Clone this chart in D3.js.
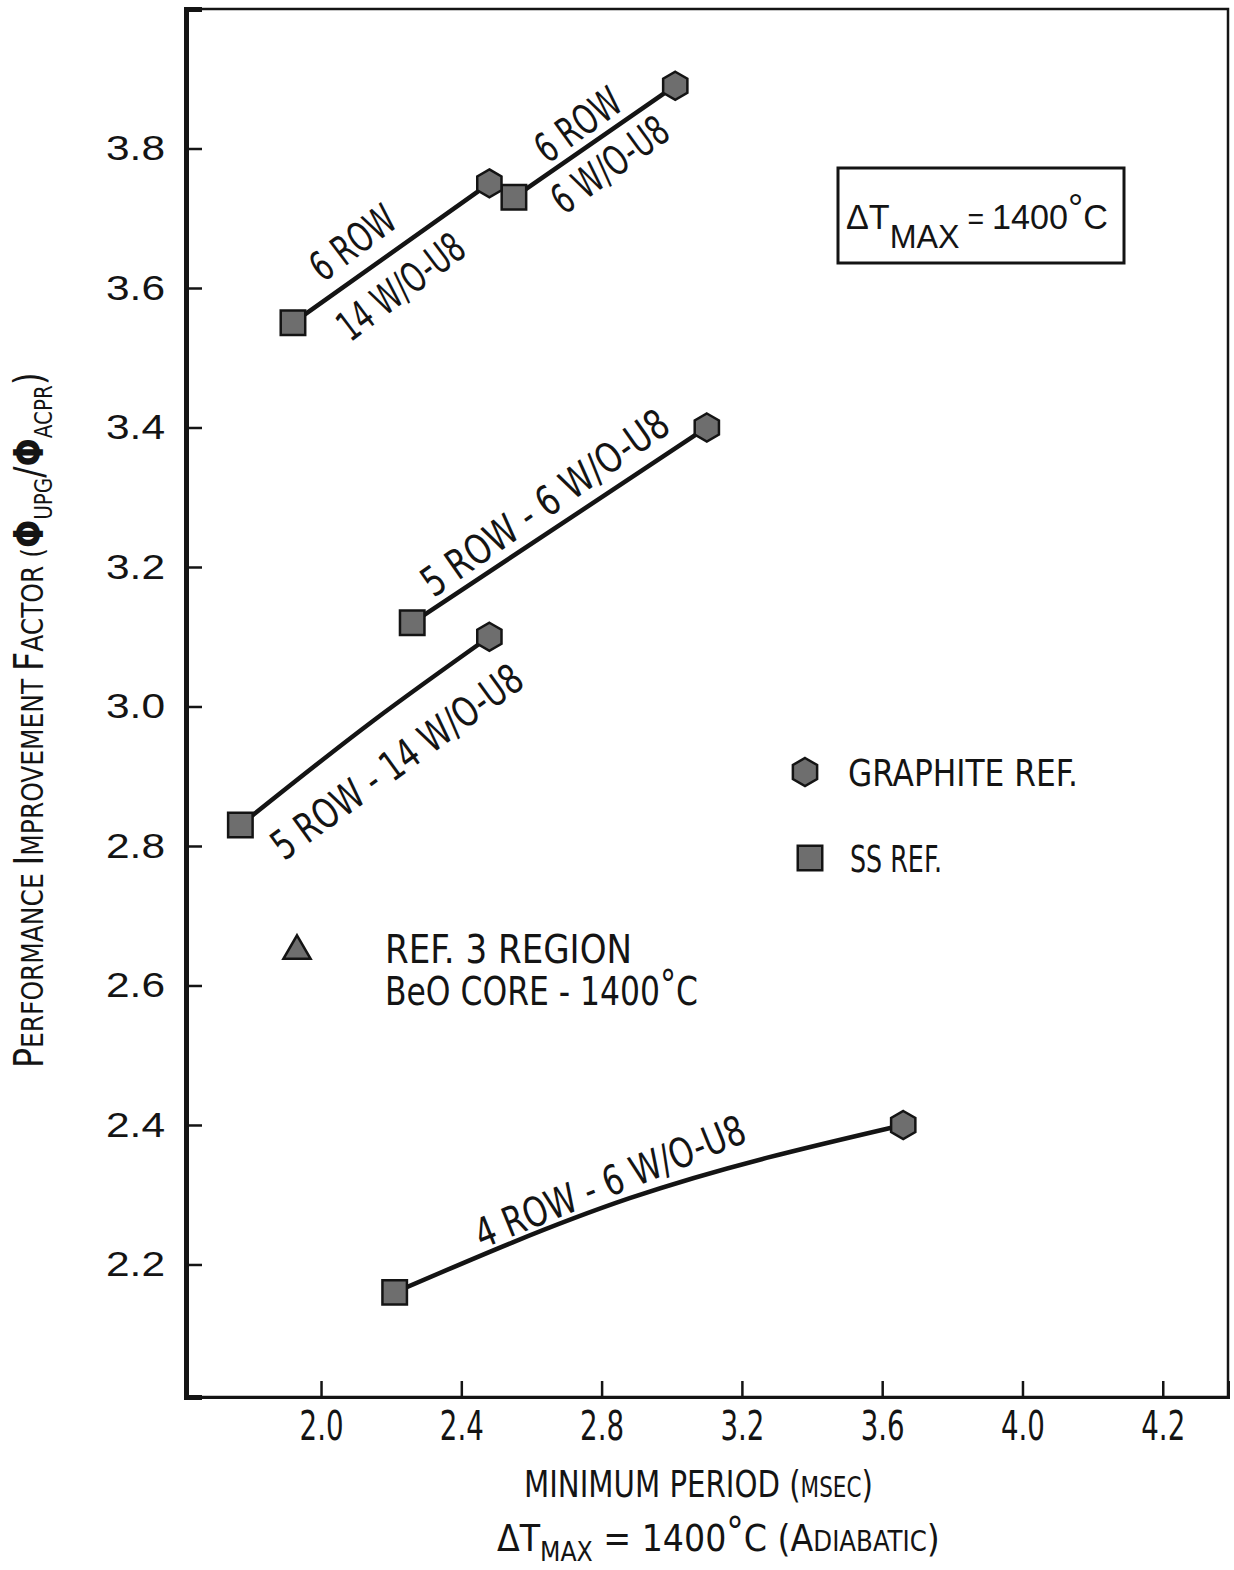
<!DOCTYPE html>
<html>
<head>
<meta charset="utf-8">
<script src="https://cdn.jsdelivr.net/npm/d3@7/dist/d3.min.js"></script>
<style>
  html, body { margin: 0; padding: 0; background: #fff; }
  svg { display: block; }
</style>
</head>
<body>
<svg id="chart" width="1234" height="1570"></svg>
<script>
// Core layouts compared (each curve runs from the SS-reflected to the graphite-reflected case)
const layouts = ["6 ROW - 14 W/O-U8", "6 ROW - 6 W/O-U8", "5 ROW - 6 W/O-U8", "5 ROW - 14 W/O-U8", "4 ROW - 6 W/O-U8"];

// SS reflector end of each curve: minimum period (msec) and improvement factor
const ssPeriod = [1.92, 2.55, 2.26, 1.77, 2.21];
const ssFactor = [3.55, 3.73, 3.12, 2.83, 2.16];

// Graphite reflector end of each curve
const graphitePeriod = [2.48, 3.01, 3.10, 2.48, 3.66];
const graphiteFactor = [3.75, 3.89, 3.40, 3.10, 2.40];

// Intermediate reading along the bowed curves (null where the curve is straight)
const midPeriod = [null, null, null, 2.15, 2.88];
const midFactor = [null, null, null, 2.98, 2.295];

// Axis ticks and their printed labels
const xTickValues = [2.0, 2.4, 2.8, 3.2, 3.6, 4.0, 4.4];
const xTickLabels = ["2.0", "2.4", "2.8", "3.2", "3.6", "4.0", "4.2"];
const yTickValues = [2.2, 2.4, 2.6, 2.8, 3.0, 3.2, 3.4, 3.6, 3.8];
const yTickLabels = ["2.2", "2.4", "2.6", "2.8", "3.0", "3.2", "3.4", "3.6", "3.8"];

// ---------------------------------------------------------------
const INK = "#141414";
const NARROW = '"Liberation Sans Narrow", "DejaVu Sans Condensed", "Arial Narrow", sans-serif';
const SANS = '"Liberation Sans", Arial, sans-serif';

// squeeze a single text run to a set length (narrow lettering)
function fit(sel, len) {
  return sel.attr("textLength", len).attr("lengthAdjust", "spacingAndGlyphs");
}
// squeeze a multi-part text horizontally by scaling its group
function squeeze(text, px, py, len, rotate) {
  const w = text.node().getComputedTextLength();
  const sx = len / w;
  text.attr("transform", `translate(${px},${py})${rotate ? ` rotate(${rotate})` : ""} scale(${sx},1)`);
  return text;
}

const svg = d3.select("#chart");
const frame = { left: 186, top: 9, right: 1228, bottom: 1397 };

const x = d3.scaleLinear().domain([1.615, 4.586]).range([frame.left, frame.right]);
const y = d3.scaleLinear().domain([2.01, 4.0]).range([frame.bottom, frame.top]);

// plot frame
svg.append("rect")
  .attr("x", frame.left).attr("y", frame.top)
  .attr("width", frame.right - frame.left)
  .attr("height", frame.bottom - frame.top)
  .attr("fill", "none").attr("stroke", INK).attr("stroke-width", 2.5);

// x axis: ticks point into the plot
const gx = svg.append("g")
  .attr("transform", `translate(0,${frame.bottom})`)
  .call(d3.axisBottom(x)
    .tickValues(xTickValues)
    .tickSize(-16).tickPadding(15)
    .tickFormat(d => xTickLabels[xTickValues.indexOf(d)]));
gx.select(".domain").attr("stroke", INK).attr("stroke-width", 3);
gx.selectAll(".tick line").attr("stroke", INK).attr("stroke-width", 2.5);
fit(gx.selectAll(".tick text")
  .attr("font-family", NARROW).attr("font-size", 40).attr("fill", INK), 44);

// y axis
const gy = svg.append("g")
  .attr("transform", `translate(${frame.left},0)`)
  .call(d3.axisLeft(y)
    .tickValues(yTickValues)
    .tickSize(-16).tickPadding(21)
    .tickFormat(d => yTickLabels[yTickValues.findIndex(v => Math.abs(v - d) < 1e-9)]));
gy.select(".domain").attr("stroke", INK).attr("stroke-width", 5);
gy.selectAll(".tick line").attr("stroke", INK).attr("stroke-width", 2.5);
fit(gy.selectAll(".tick text")
  .attr("font-family", SANS).attr("font-size", 35).attr("fill", INK), 59);

// curves
const line = d3.line()
  .x(d => x(d[0])).y(d => y(d[1]))
  .curve(d3.curveMonotoneX);

layouts.forEach((name, i) => {
  const pts = [[ssPeriod[i], ssFactor[i]]];
  if (midPeriod[i] !== null) pts.push([midPeriod[i], midFactor[i]]);
  pts.push([graphitePeriod[i], graphiteFactor[i]]);
  svg.append("path")
    .datum(pts)
    .attr("class", "curve")
    .attr("d", line)
    .attr("fill", "none")
    .attr("stroke", INK)
    .attr("stroke-width", 4.5)
    .attr("stroke-linecap", "round");
});

// marker shapes
function hexPath(r) {
  const p = d3.path();
  d3.range(6).forEach(k => {
    const a = -Math.PI / 2 + k * Math.PI / 3;
    const px = r * Math.cos(a), py = r * Math.sin(a);
    if (k === 0) p.moveTo(px, py); else p.lineTo(px, py);
  });
  p.closePath();
  return p.toString();
}
const HEX = hexPath(14);
const SQUARE = d3.symbol(d3.symbolSquare, 600)();
const TRIANGLE = d3.symbol(d3.symbolTriangle, 320)();
const MARK_FILL = "#6e6e6e";

function marker(g, shape) {
  return g.append("path").attr("d", shape)
    .attr("fill", MARK_FILL).attr("stroke", INK).attr("stroke-width", 2.5);
}

svg.append("g").selectAll("path")
  .data(d3.range(layouts.length))
  .join("path")
  .attr("d", SQUARE)
  .attr("transform", i => `translate(${x(ssPeriod[i])},${y(ssFactor[i])})`)
  .attr("fill", MARK_FILL).attr("stroke", INK).attr("stroke-width", 2.5);

svg.append("g").selectAll("path")
  .data(d3.range(layouts.length))
  .join("path")
  .attr("d", HEX)
  .attr("transform", i => `translate(${x(graphitePeriod[i])},${y(graphiteFactor[i])})`)
  .attr("fill", MARK_FILL).attr("stroke", INK).attr("stroke-width", 2.5);

// curve labels, set along each curve
const curveNotes = [
  { text: "6 ROW",             cx: 353, cy: 243,  angle: -37, len: 96 },
  { text: "14 W/O-U8",         cx: 401, cy: 287,  angle: -37, len: 148 },
  { text: "6 ROW",             cx: 578, cy: 125,  angle: -36, len: 96 },
  { text: "6 W/O-U8",          cx: 610, cy: 165,  angle: -36, len: 134 },
  { text: "5 ROW - 6 W/O-U8",  cx: 545, cy: 503,  angle: -35, len: 292 },
  { text: "5 ROW - 14 W/O-U8", cx: 397, cy: 762,  angle: -36, len: 300 },
  { text: "4 ROW - 6 W/O-U8",  cx: 610, cy: 1182, angle: -22, len: 288 }
];
svg.append("g").selectAll("text")
  .data(curveNotes)
  .join("text")
  .attr("transform", d => `translate(${d.cx},${d.cy}) rotate(${d.angle})`)
  .attr("text-anchor", "middle")
  .attr("dominant-baseline", "central")
  .attr("font-family", NARROW)
  .attr("font-size", 41)
  .attr("fill", INK)
  .attr("textLength", d => d.len)
  .attr("lengthAdjust", "spacingAndGlyphs")
  .text(d => d.text);

// boxed temperature note
svg.append("rect")
  .attr("x", 838).attr("y", 168).attr("width", 286).attr("height", 95)
  .attr("fill", "none").attr("stroke", INK).attr("stroke-width", 3);
const boxText = svg.append("text")
  .attr("font-family", SANS).attr("font-size", 36).attr("fill", INK);
boxText.append("tspan").text("ΔT");
boxText.append("tspan").attr("dy", 19).attr("font-size", 34).text("MAX");
boxText.append("tspan").attr("dy", -19).attr("font-size", 30).text(" = ");
boxText.append("tspan").attr("font-size", 36).text("1400");
boxText.append("tspan").attr("dy", -7).attr("font-size", 40).text("°");
boxText.append("tspan").attr("dy", 7).attr("font-size", 36).text("C");
squeeze(boxText, 846, 229, 262);

// legend: reflector materials
const legendRows = [
  { shape: HEX,    mx: 805, my: 772, label: "GRAPHITE REF.", tx: 848, ty: 786, len: 230 },
  { shape: SQUARE, mx: 810, my: 858, label: "SS REF.",       tx: 850, ty: 872, len: 92 }
];
legendRows.forEach(r => {
  marker(svg, r.shape).attr("transform", `translate(${r.mx},${r.my})`);
  fit(svg.append("text")
    .attr("x", r.tx).attr("y", r.ty)
    .attr("font-family", NARROW).attr("font-size", 38)
    .attr("fill", INK)
    .text(r.label), r.len);
});

// reference core note
marker(svg, TRIANGLE).attr("transform", "translate(297,951)");
fit(svg.append("text")
  .attr("x", 385).attr("y", 963)
  .attr("font-family", NARROW).attr("font-size", 39)
  .attr("fill", INK)
  .text("REF. 3 REGION"), 247);
const beo = svg.append("text")
  .attr("font-family", NARROW).attr("font-size", 39)
  .attr("fill", INK);
beo.append("tspan").text("BeO CORE - 1400");
beo.append("tspan").attr("dy", -6).attr("font-size", 40).text("°");
beo.append("tspan").attr("dy", 6).text("C");
squeeze(beo, 385, 1005, 313);

// x axis title
const xt1 = svg.append("text")
  .attr("font-family", NARROW).attr("font-size", 38)
  .attr("fill", INK);
xt1.append("tspan").text("MINIMUM PERIOD (");
xt1.append("tspan").attr("font-size", 28).text("MSEC");
xt1.append("tspan").text(")");
squeeze(xt1, 524, 1497, 349);

const xt2 = svg.append("text")
  .attr("font-family", NARROW).attr("font-size", 38)
  .attr("fill", INK);
xt2.append("tspan").text("ΔT");
xt2.append("tspan").attr("dy", 10).attr("font-size", 27).text("MAX");
xt2.append("tspan").attr("dy", -10).text(" = 1400");
xt2.append("tspan").attr("dy", -5).attr("font-size", 40).text("°");
xt2.append("tspan").attr("dy", 5).text("C (A");
xt2.append("tspan").attr("font-size", 28).text("DIABATIC");
xt2.append("tspan").text(")");
squeeze(xt2, 497, 1551, 443);

// y axis title (rotated, small capitals)
const yt = svg.append("text")
  .attr("font-family", NARROW).attr("font-size", 40)
  .attr("fill", INK);
[
  ["P", 40], ["ERFORMANCE ", 30], ["I", 40], ["MPROVEMENT ", 30], ["F", 40], ["ACTOR (", 30]
].forEach(([t, s]) => yt.append("tspan").attr("font-size", s).text(t));
yt.append("tspan").attr("font-size", 40).attr("font-weight", "bold").text("Φ");
yt.append("tspan").attr("font-size", 24).attr("dy", 9).text("UPG");
yt.append("tspan").attr("font-size", 40).attr("dy", -9).text("/");
yt.append("tspan").attr("font-size", 40).attr("font-weight", "bold").text("Φ");
yt.append("tspan").attr("font-size", 24).attr("dy", 9).text("ACPR");
yt.append("tspan").attr("font-size", 40).attr("dy", -9).text(")");
squeeze(yt, 43, 1068, 696, -90);
</script>
</body>
</html>
